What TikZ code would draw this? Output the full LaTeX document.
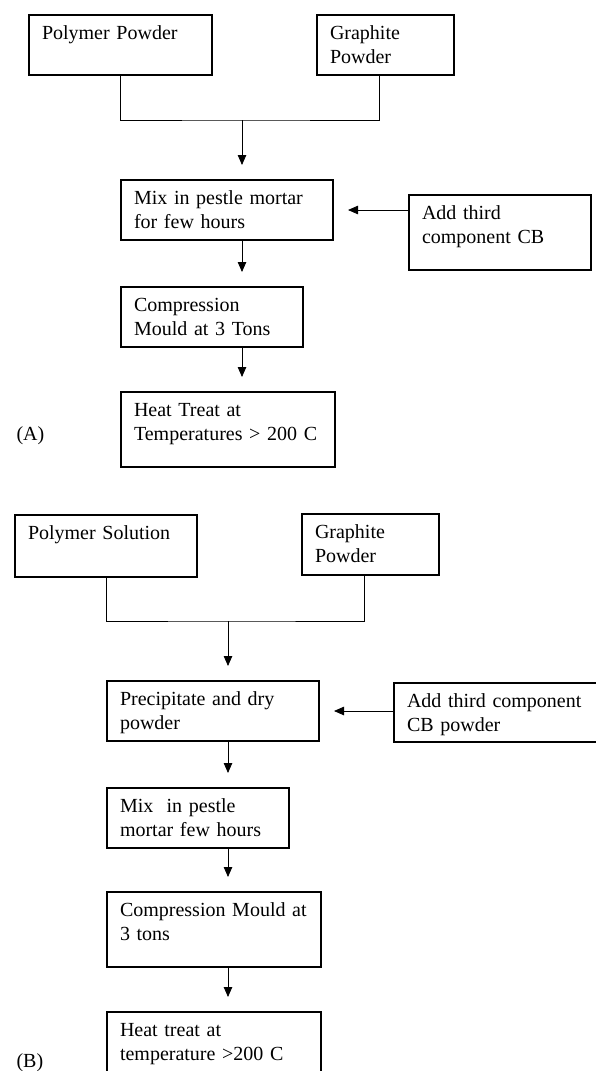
\documentclass[tikz,border=0pt]{standalone}
\usepackage{fontspec}
\setmainfont{Liberation Serif}
\usetikzlibrary{arrows.meta}
\tikzset{
  stepbox/.style={draw,line width=1.1pt,anchor=north west,align=left,
    inner xsep=13pt,inner ysep=0pt,outer sep=0pt,text height=24.5pt},
  link/.style={line width=1pt},
  flow/.style={line width=0.8pt,-{Triangle[length=10pt,width=8.5pt]},shorten >=15pt},
  panel/.style={anchor=base west}
}
\begin{document}
\begin{tikzpicture}[x=1pt,y=-1pt,every node/.style={font=\fontsize{20}{23.5}\selectfont}]
  \useasboundingbox (0,0) rectangle (596,1071);

  % (A) powder route
  \node[stepbox,text width=157pt,text depth=35.5pt] (ppow) at (29,15) {Polymer Powder};
  \node[stepbox,text width=111pt,text depth=35.5pt] (gpowA) at (317,15) {Graphite\\Powder};
  \node[stepbox,text width=186pt,text depth=35.5pt] (mixA) at (121,180) {Mix in pestle mortar\\for few hours};
  \node[stepbox,text width=156pt,text depth=50.5pt] (addA) at (409,195) {Add third\\component CB};
  \node[stepbox,text width=156pt,text depth=35.5pt] (compA) at (121,287) {Compression\\Mould at 3 Tons};
  \node[stepbox,text width=188pt,text depth=50.5pt] (heatA) at (121,392) {Heat Treat at\\Temperatures > 200 C};
  \node[panel] (labA) at (13,440) {(A)};
  \coordinate (jA) at (242,120);

  \draw[link] (ppow.south) |- (jA) -| ([xshift=-6.5pt]gpowA.south);
  \draw[flow] (jA) -- (jA |- mixA.north);
  \draw[flow] (addA.west |- mixA.east) -- (mixA.east);
  \draw[flow] (mixA.south -| jA) -- (jA |- compA.north);
  \draw[flow] (compA.south -| jA) -- (jA |- heatA.north);

  % (B) solution route
  \node[stepbox,text width=156pt,text depth=37.5pt] (psol) at (15,515) {Polymer Solution};
  \node[stepbox,text width=111pt,text depth=36.5pt] (gpowB) at (302,514) {Graphite\\Powder};
  \node[stepbox,text width=186pt,text depth=35.5pt] (prec) at (107,681) {Precipitate and dry\\powder};
  \node[stepbox,text width=184pt,text depth=34.5pt] (addB) at (394,683) {Add third component\\CB powder};
  \node[stepbox,text width=156pt,text depth=35.5pt] (mixB) at (107,788) {Mix\ \ in pestle\\mortar few hours};
  \node[stepbox,text width=188pt,text depth=50.5pt] (compB) at (107,892) {Compression Mould at\\3 tons};
  \node[stepbox,text width=188pt,text depth=50.5pt] (heatB) at (107,1012) {Heat treat at\\temperature >200 C};
  \node[panel] (labB) at (13,1067) {(B)};
  \coordinate (jB) at (228,621);

  \draw[link] (psol.south) |- (jB) -| ([xshift=-6.5pt]gpowB.south);
  \draw[flow] (jB) -- (jB |- prec.north);
  \draw[flow] (addB.west |- prec.east) -- (prec.east);
  \draw[flow] (prec.south -| jB) -- (jB |- mixB.north);
  \draw[flow] (mixB.south -| jB) -- (jB |- compB.north);
  \draw[flow] (compB.south -| jB) -- (jB |- heatB.north);
\end{tikzpicture}
\end{document}
